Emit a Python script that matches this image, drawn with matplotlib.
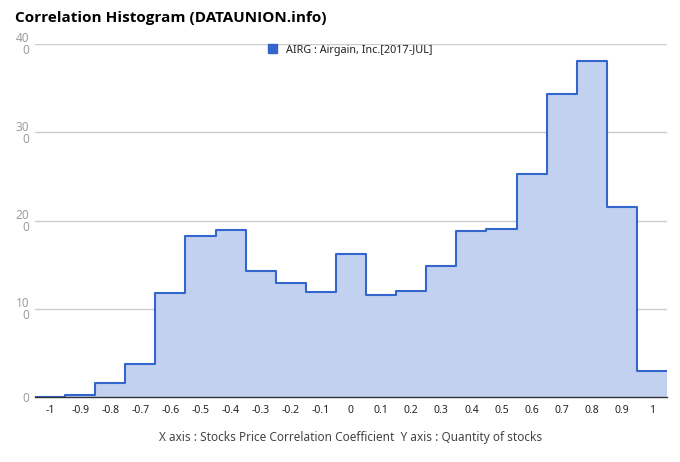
import matplotlib.pyplot as plt
import numpy as np
from matplotlib.patches import Patch

plt.rcParams['font.family'] = ['Noto Sans', 'DejaVu Sans']

# correlation bins (centers) and counts of stocks
bins = [-1.0, -0.9, -0.8, -0.7, -0.6, -0.5, -0.4, -0.3, -0.2, -0.1, 0.0,
        0.1, 0.2, 0.3, 0.4, 0.5, 0.6, 0.7, 0.8, 0.9, 1.0]
counts = [0, 2, 16, 37, 118, 183, 189, 143, 129, 119, 162,
          116, 120, 148, 188, 190, 253, 343, 381, 215, 30]
xtick_labels = ['-1', '-0.9', '-0.8', '-0.7', '-0.6', '-0.5', '-0.4', '-0.3', '-0.2', '-0.1', '0',
                '0.1', '0.2', '0.3', '0.4', '0.5', '0.6', '0.7', '0.8', '0.9', '1']
yticks = [0, 100, 200, 300, 400]
ytick_labels = ['0', '10\n0', '20\n0', '30\n0', '40\n0']
series_name = 'AIRG : Airgain, Inc.[2017-JUL]'

line_col = '#3366cc'
fill_col = '#c2d1f0'

centers = np.array(bins)
vals = np.array(counts, dtype=float)
half = 0.05
edges = np.append(centers - half, centers[-1] + half)
vals_ext = np.append(vals, vals[-1])

fig = plt.figure(figsize=(6.8, 4.62), dpi=100)
ax = fig.add_axes([35/680, 1-397/462, (667-35)/680, (397-44)/462])

ax.fill_between(edges, vals_ext, step='post', color=fill_col, linewidth=0, zorder=2)
ax.step(edges, vals_ext, where='post', color=line_col, linewidth=1.5, zorder=3)

ax.set_xlim(edges[0], edges[-1])
ax.set_ylim(0, 400)

ax.set_yticks(yticks)
ax.set_yticklabels(ytick_labels, color='#9e9e9e', fontsize=8.5, linespacing=0.9)
ax.set_xticks(centers)
ax.set_xticklabels(xtick_labels, color='#222222', fontsize=7.5)
ax.tick_params(axis='both', length=0)
ax.tick_params(axis='x', pad=6)
ax.tick_params(axis='y', pad=4)

ax.grid(axis='y', color='#cccccc', linewidth=1, zorder=1)
ax.set_axisbelow(True)
for s in ['top', 'right', 'left']:
    ax.spines[s].set_visible(False)
ax.spines['bottom'].set_color('#333333')
ax.spines['bottom'].set_linewidth(1)
ax.spines['bottom'].set_zorder(4)

fig.text(15/680, 1-18/462, 'Correlation Histogram (DATAUNION.info)',
         fontsize=11, fontweight='bold', family=['Open Sans', 'DejaVu Sans'],
         color='#000000', va='center', ha='left')

leg = fig.legend(handles=[Patch(facecolor=line_col, edgecolor=line_col)],
                 labels=[series_name], loc='center', bbox_to_anchor=(350/680, 1-50/462),
                 frameon=False, fontsize=7.8, handlelength=0.85, handleheight=0.85,
                 handletextpad=0.8, labelcolor='#222222')

fig.text(351/680, 1-437/462,
         'X axis : Stocks Price Correlation Coefficient  Y axis : Quantity of stocks',
         fontsize=8.5, color='#444444', ha='center', va='center')

plt.savefig('out.png', dpi=100)
